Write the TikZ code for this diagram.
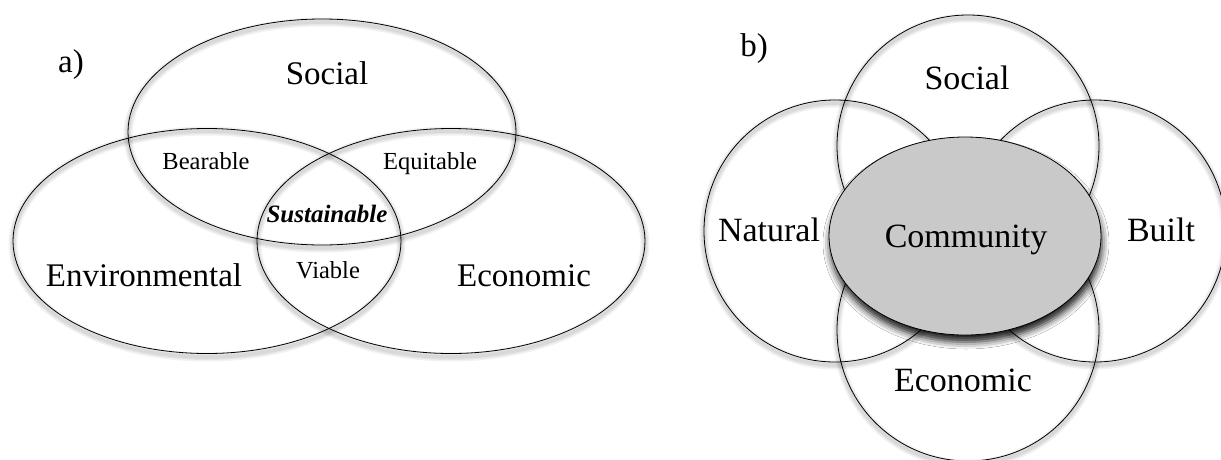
\documentclass[tikz,border=0pt]{standalone}
\usepackage{fontspec}
\setmainfont{Liberation Serif}
\usetikzlibrary{shapes.geometric,shadows.blur}
\tikzset{
  every node/.style={inner sep=0pt, outer sep=0pt},
  ring/.style={draw=black, line width=0.8pt},
  halo/.style={draw=black, draw opacity=0.05, line width=#1},
  big/.style={font=\fontsize{33}{36}\selectfont, anchor=base},
  bigb/.style={font=\fontsize{34}{38}\selectfont, anchor=base},
  small/.style={font=\fontsize{24.5}{28}\selectfont, anchor=base},
  commfill/.style={draw=black, line width=0.8pt, fill=comgray,
    blur shadow={shadow xshift=1pt, shadow yshift=-7pt, shadow blur radius=7pt, shadow opacity=90}},
}
\definecolor{comgray}{HTML}{C9C9C9}
\begin{document}
\begin{tikzpicture}[x=1pt,y=-1pt]
\useasboundingbox (0,0) rectangle (1221,459);
\clip (0,0) rectangle (1221,459);
\fill[white] (0,0) rectangle (1221,459);
% ---------- panel a ----------
\foreach \cx/\cy in {322/132, 207/241, 451/241}{
  \foreach \w in {9pt,6pt,3.5pt}{
    \draw[halo=\w] (\cx,\cy+3) ellipse [x radius=194, y radius=113];
  }
}
\node[ring, ellipse, minimum width=388pt, minimum height=226pt] (socA) at (322,132) {};
\node[ring, ellipse, minimum width=388pt, minimum height=225pt] (envA) at (207,241) {};
\node[ring, ellipse, minimum width=388pt, minimum height=225pt] (ecoA) at (451,241) {};
\node[big] (la) at (71,72) {a)};
\node[big] (tSocA) at (327,84) {Social};
\node[big] (tEnvA) at (144,286) {Environmental};
\node[big] (tEcoA) at (524,286) {Economic};
\node[small] (tBear) at (206,169) {Bearable};
\node[small] (tEqui) at (430,169) {Equitable};
\node[small, font=\fontsize{25}{28}\selectfont\bfseries\itshape] (tSust) at (327,222) {Sustainable};
\node[small] (tViab) at (328,278) {Viable};
% ---------- panel b ----------
\foreach \cx/\cy in {968/146, 968/330, 835/231, 1095/231}{
  \foreach \w in {9pt,6pt,3.5pt}{
    \draw[halo=\w] (\cx,\cy+3) circle [radius=131];
  }
}
\node[ring, circle, minimum size=262pt] (socB) at (968,146) {};
\node[ring, circle, minimum size=262pt] (ecoB) at (968,330) {};
\node[ring, circle, minimum size=262pt] (natB) at (835,231) {};
\node[ring, circle, minimum size=262pt] (bltB) at (1095,231) {};
\node[commfill, ellipse, minimum width=272pt, minimum height=198pt] (comm) at (965,236) {};
\node[big] (lb) at (754,56) {b)};
\node[bigb] (tSocB) at (967,89) {Social};
\node[bigb] (tNat) at (769,241) {Natural};
\node[bigb] (tComm) at (966,247) {Community};
\node[bigb] (tBlt) at (1161,241) {Built};
\node[bigb] (tEcoB) at (963,391) {Economic};
\end{tikzpicture}
\end{document}
